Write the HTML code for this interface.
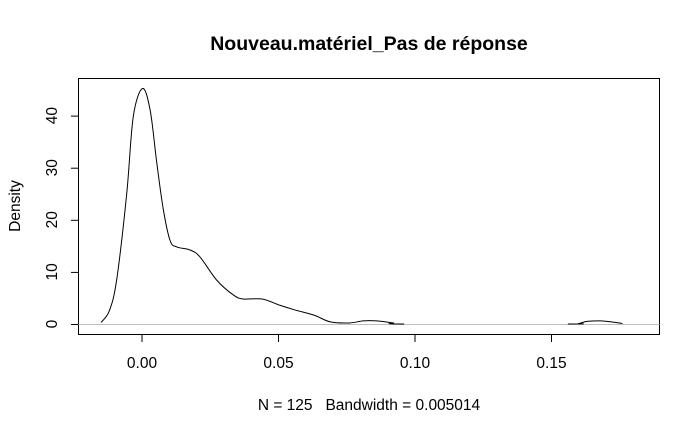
<!DOCTYPE html>
<html><head><meta charset="utf-8"><style>
body{margin:0;background:#fff}
svg{display:block;font-family:"Liberation Sans",Arial,sans-serif}
</style></head><body>
<svg id="c" width="700" height="432">
<rect x="0" y="0" width="700" height="432" fill="#fff"/>
<text x="369" y="50" text-anchor="middle" font-weight="bold" font-size="19.5">Nouveau.matériel_Pas de réponse</text>
<rect x="78.5" y="78.5" width="581" height="256" fill="none" stroke="#000"/>
<text x="369" y="410" text-anchor="middle" font-size="15.5" style="white-space:pre" xml:space="preserve">N = 125   Bandwidth = 0.005014</text>
<text transform="translate(20,206) rotate(-90)" text-anchor="middle" font-size="15.5">Density</text>
<g id="ax"></g>
</svg>
<script>
const xs=[-0.015,-0.012,-0.0093,-0.0056,-0.0032,0.0002,0.003,0.0054,0.0078,0.0103,0.0127,0.0176,0.0212,0.0274,0.0334,0.037,0.044,0.0505,0.056,0.063,0.069,0.076,0.081,0.086,0.092,0.096,0.156,0.16,0.163,0.168,0.172,0.176];
const ys=[0.3,2.5,8.4,25,39.8,45.2,41,31,22,16,14.8,14.2,12.9,8.4,5.6,4.8,4.8,3.6,2.7,1.7,0.4,0.2,0.6,0.6,0.2,0.0,0.0,0.1,0.5,0.6,0.4,0.1];
const xTicks=[0,0.05,0.10,0.15];
const xTickLabels=["0.00","0.05","0.10","0.15"];
const yTicks=[0,10,20,30,40];
const yTickLabels=["0","10","20","30","40"];
const X=v=>142+v*2730, Y=v=>324-v*5.21;
const ns="http://www.w3.org/2000/svg", g=document.getElementById('ax');
function mk(t,a){const e=document.createElementNS(ns,t);for(const k in a)e.setAttribute(k,a[k]);g.appendChild(e);return e;}
const z=mk('line',{x1:78.5,x2:659.5,y1:324.5,y2:324.5,stroke:'#bebebe'});


xTicks.forEach((v,i)=>{
 const l=mk('line',{x1:X(v),x2:X(v),y1:334.5,y2:342,stroke:'#000'});
 
 
 const t=mk('text',{x:X(v),y:368,'text-anchor':'middle','font-size':15.5});t.textContent=xTickLabels[i];
 
 
});
yTicks.forEach((v,i)=>{
 const l=mk('line',{x1:71,x2:78.5,y1:Y(v)+0.5,y2:Y(v)+0.5,stroke:'#000'});
 
 
 const t=mk('text',{transform:`translate(57,${Y(v)}) rotate(-90)`,'text-anchor':'middle','font-size':15.5});t.textContent=yTickLabels[i];
 
 
});
const P=xs.map((v,i)=>[X(v),Y(ys[i])]);
const y0=Y(0);
let d='M'+P[0][0]+','+P[0][1];
for(let i=0;i<P.length-1;i++){
 const p0=P[Math.max(0,i-1)],p1=P[i],p2=P[i+1],p3=P[Math.min(P.length-1,i+2)];
 const c1=[p1[0]+(p2[0]-p0[0])/6,Math.min(y0,p1[1]+(p2[1]-p0[1])/6)];
 const c2=[p2[0]-(p3[0]-p1[0])/6,Math.min(y0,p2[1]-(p3[1]-p1[1])/6)];
 if(p2[0]-p1[0]>50){d+=`M${p2[0]},${p2[1]}`;continue;}
 d+=`C${c1[0]},${c1[1]} ${c2[0]},${c2[1]} ${p2[0]},${p2[1]}`;
}
const p=mk('path',{d:d,fill:'none',stroke:'#000','stroke-width':1});


</script>
</body></html>
